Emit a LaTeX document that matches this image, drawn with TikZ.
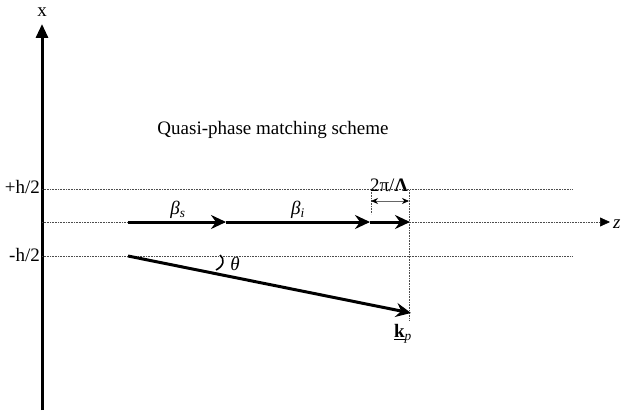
\documentclass[tikz,border=0pt]{standalone}
\usepackage{fontspec}
\setmainfont{Liberation Serif}
\usetikzlibrary{arrows.meta}
\usetikzlibrary{positioning}

\tikzset{
  guide/.style={densely dotted,line width=0.6pt,black!70},
  wavevec/.style={line width=3pt,-{Stealth[length=15pt,width=14pt,inset=5pt]}},
  lbl/.style={inner sep=1pt,font=\fontsize{19}{22}\selectfont}
}

\begin{document}
\begin{tikzpicture}[x=1pt,y=-1pt]
    \useasboundingbox (0,0) rectangle (624,412);

    % axes
    \coordinate (xbot) at (42,410);
    \coordinate (xtop) at (42,24);
    \draw[line width=3pt,-{Triangle[length=14pt,width=12pt]}] (xbot) -- (xtop);
    \node[lbl] (xlab) at (42,12) {x};

    \coordinate (zbeg) at (42,222);
    \coordinate (zend) at (610,222);
    \draw[guide,-{Triangle[length=10pt,width=9pt,black]}] (zbeg) -- (zend);
    \node[lbl,anchor=west] (zlab) at (612,224) {\textit{z}};

    % waveguide edges
    \coordinate (top0) at (42,189);
    \coordinate (top1) at (572,189);
    \coordinate (bot0) at (42,256);
    \coordinate (bot1) at (572,256);
    \draw[guide] (top0) -- (top1);
    \draw[guide] (bot0) -- (bot1);
    \node[lbl,anchor=east] (hplus) at (41,187) {+h/2};
    \node[lbl,anchor=east] (hminus) at (41,255) {-h/2};

    % title
    \node[lbl] (title) at (273,130) {Quasi-phase matching scheme};

    % signal, idler and grating vectors
    \coordinate (s0) at (128,222);
    \coordinate (s1) at (226,222);
    \coordinate (i1) at (370,222);
    \coordinate (g1) at (410,222);
    \draw[wavevec] (s0) -- (s1);
    \draw[wavevec] (s1) -- (i1);
    \draw[wavevec] (i1) -- (g1);
    \node[lbl] (betas) at (178,210) {\textit{β}\textsubscript{\textit{s}}};
    \node[lbl] (betai) at (298,210) {\textit{β}\textsubscript{\textit{i}}};

    % grating period
    \coordinate (gl) at (371,190);
    \coordinate (gr) at (409,190);
    \coordinate (glb) at (371,214);
    \coordinate (grb) at (409,320);
    \draw[guide] (gl) -- (glb);
    \draw[guide] (gr) -- (grb);
    \coordinate (pl) at (371,201);
    \coordinate (pr) at (409,201);
    \draw[line width=0.8pt,black!60,{Stealth[length=7pt,width=6pt,black]}-{Stealth[length=7pt,width=6pt,black]}] (pl) -- (pr);
    \node[lbl] (period) at (389,185) {2π/\textbf{Λ}};

    % pump vector
    \coordinate (p0) at (128,256);
    \coordinate (p1) at (411,313);
    \draw[wavevec] (p0) -- (p1);
    \draw[line width=1.6pt] (220,255) .. controls (225,259) and (224,266) .. (216,270);
    \node[lbl] (theta) at (235,264) {\textit{θ}};
    \node[lbl] (kp) at (403,334) {\underline{\textbf{k}}\textsubscript{\textit{p}}};
\end{tikzpicture}
\end{document}
